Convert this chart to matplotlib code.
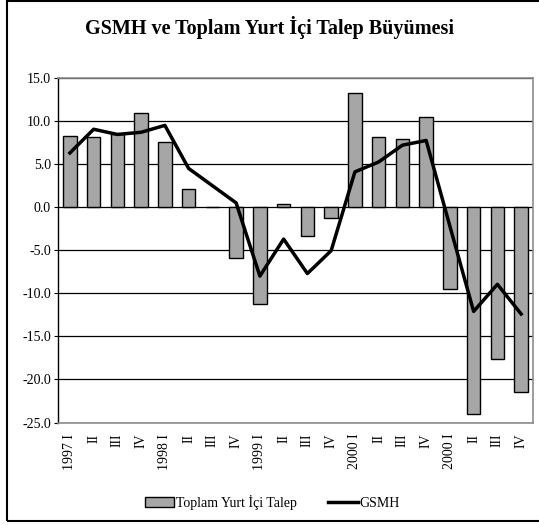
import matplotlib
matplotlib.use("Agg")
import matplotlib.pyplot as plt
from matplotlib.patches import Rectangle
import numpy as np

# quarter labels (the source repeats "2000 I" for 2001)
quarters = ["1997 I", "II", "III", "IV", "1998 I", "II", "III", "IV",
            "1999 I", "II", "III", "IV", "2000 I", "II", "III", "IV",
            "2000 I", "II", "III", "IV"]
talep = [8.3, 8.1, 8.5, 10.9, 7.6, 2.1, 0.0, -5.9,
         -11.2, 0.35, -3.4, -1.3, 13.3, 8.1, 7.9, 10.5,
         -9.5, -24.0, -17.6, -21.5]
gsmh = [6.3, 9.05, 8.45, 8.7, 9.5, 4.5, 2.5, 0.5,
        -8.0, -3.7, -7.7, -5.05, 4.1, 5.25, 7.2, 7.75,
        -2.2, -12.1, -8.95, -12.4]

plt.rcParams["font.family"] = ["Liberation Serif", "DejaVu Serif"]

fig = plt.figure(figsize=(5.39, 5.25), dpi=100)
ax = fig.add_axes([0.1076, 0.1952, 0.8813, 0.6562])

x = np.arange(len(quarters))
bars = ax.bar(x, talep, width=0.56, color="#a6a6a6", edgecolor="black", linewidth=1.0,
              zorder=3, label="Toplam Yurt İçi Talep")
line, = ax.plot(x, gsmh, color="black", linewidth=2.5, zorder=4, label="GSMH")

ax.set_ylim(-25, 15)
ax.set_xlim(-0.5, len(quarters) - 0.5)
yt = np.arange(-25, 15.1, 5)
ax.set_yticks(yt)
ax.set_yticklabels([f"{v:.1f}" for v in yt], fontsize=10)
ax.yaxis.grid(True, color="black", linewidth=0.9, zorder=0)
ax.set_axisbelow(True)

ax.set_xticks(x)
ax.set_xticklabels(quarters, rotation=90, fontsize=10, va="top")
ax.tick_params(axis="x", length=0, pad=8)
ax.tick_params(axis="y", length=3, direction="out", pad=2)

for side in ["top", "right", "bottom"]:
    ax.spines[side].set_color("#8c8c8c")
    ax.spines[side].set_linewidth(1.2)
ax.spines["left"].set_color("black")
ax.spines["left"].set_linewidth(1.0)

fig.text(0.5, 0.948, "GSMH ve Toplam Yurt İçi Talep Büyümesi", ha="center", va="center",
         fontsize=14.5, fontweight="bold")

fig.legend(handles=[bars, line], labels=["Toplam Yurt İçi Talep", "GSMH"],
           loc="center", bbox_to_anchor=(0.505, 0.043), ncol=2, frameon=False,
           fontsize=10, handlelength=2.1, handletextpad=0.1, columnspacing=2.3)

# outer chart frame (right side runs off the image)
fig.patches.append(Rectangle((7 / 539, 4 / 525), 1.0, 520 / 525, transform=fig.transFigure,
                             fill=False, edgecolor="black", linewidth=1.5))

fig.savefig("out.png", dpi=100)
